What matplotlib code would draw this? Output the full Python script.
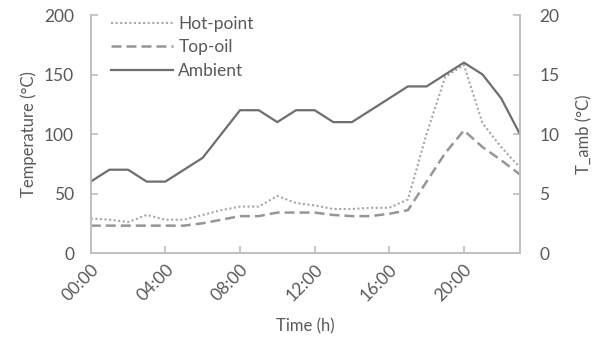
import matplotlib.pyplot as plt

plt.rcParams['font.family'] = ['Lato', 'DejaVu Sans']

# hourly values
hours = list(range(24))
hot_point = [29, 28, 26, 32, 28, 28, 32, 36, 39, 39, 48, 42,
             40, 37, 37, 38, 38, 45, 100, 148, 158, 109, 89, 72]
top_oil = [23, 23, 23, 23, 23, 23, 25, 28, 31, 31, 34, 34,
           34, 32, 31, 31, 33, 36, 60, 84, 103, 89, 78, 66]
ambient = [6, 7, 7, 6, 6, 7, 8, 10, 12, 12, 11, 12,
           12, 11, 11, 12, 13, 14, 14, 15, 16, 15, 13, 10]
tick_hours = [0, 4, 8, 12, 16, 20]
tick_labels = ['%02d:00' % h for h in tick_hours]

text_col = '#595959'
axis_col = '#bfbfbf'

fig = plt.figure(figsize=(6.01, 3.41), dpi=100)
ax = fig.add_axes([0.151, 0.258, 0.714, 0.698])
ax2 = ax.twinx()

l1, = ax.plot(hours, hot_point, linestyle=(0, (1, 1.2)), color='#a6a6a6', linewidth=1.5, label='Hot-point')
l2, = ax.plot(hours, top_oil, linestyle=(0, (4, 2)), color='#969696', linewidth=1.8, label='Top-oil')
l3, = ax2.plot(hours, ambient, linestyle='-', color='#6e6e6e', linewidth=1.6, label='Ambient')

ax.set_xlim(0, 23)
ax.set_ylim(0, 200)
ax2.set_ylim(0, 20)
ax.set_yticks([0, 50, 100, 150, 200])
ax2.set_yticks([0, 5, 10, 15, 20])
ax.set_xticks(tick_hours)
ax.set_xticklabels(tick_labels, rotation=45, ha='right', rotation_mode='anchor')

for a in (ax, ax2):
    a.spines['top'].set_visible(False)
    for s in ('left', 'right', 'bottom'):
        a.spines[s].set_color(axis_col)
        a.spines[s].set_linewidth(1.2)
    a.tick_params(direction='in', colors=axis_col, labelcolor=text_col,
                  labelsize=12.5, length=5, width=1.2)
ax.tick_params(axis='x', pad=6)
ax.tick_params(axis='y', pad=12)
ax2.tick_params(axis='y', pad=14)

ax.set_xlabel('Time (h)', color=text_col, fontsize=12, labelpad=10)
ax.set_ylabel('Temperature (°C)', color=text_col, fontsize=12, labelpad=5)
ax2.set_ylabel('T_amb (°C)', color=text_col, fontsize=12, labelpad=12)

leg = ax.legend(handles=[l1, l2, l3], loc='upper left', bbox_to_anchor=(0.03, 1.025),
                frameon=False, fontsize=12.5, handlelength=3.6, handletextpad=0.3,
                labelspacing=0.42, borderaxespad=0)
for t in leg.get_texts():
    t.set_color(text_col)

plt.savefig('out.png', dpi=100)
